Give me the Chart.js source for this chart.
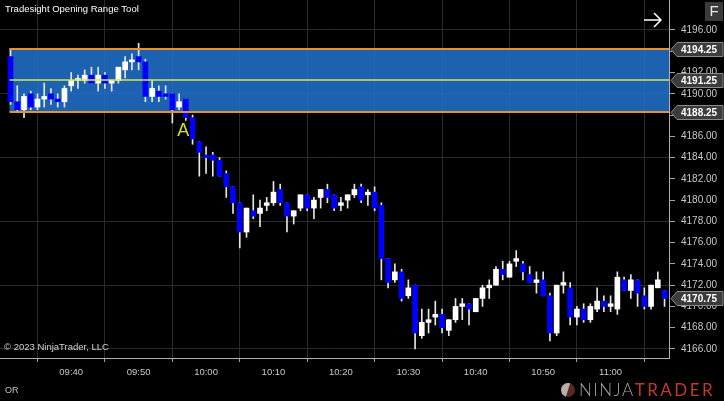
<!DOCTYPE html>
<html>
<head>
<meta charset="utf-8">
<script src="https://cdn.jsdelivr.net/npm/chart.js@4/dist/chart.umd.min.js"></script>
<style>
html,body{margin:0;padding:0;background:#000;overflow:hidden}
canvas{display:block}
</style>
</head>
<body>
<canvas id="c" width="724" height="401"></canvas>
<script>
// ======= DATA =======
const times = ["09:31","09:32","09:33","09:34","09:35","09:36","09:37","09:38","09:39","09:40",
  "09:41","09:42","09:43","09:44","09:45","09:46","09:47","09:48","09:49","09:50",
  "09:51","09:52","09:53","09:54","09:55","09:56","09:57","09:58","09:59","10:00",
  "10:01","10:02","10:03","10:04","10:05","10:06","10:07","10:08","10:09","10:10",
  "10:11","10:12","10:13","10:14","10:15","10:16","10:17","10:18","10:19","10:20",
  "10:21","10:22","10:23","10:24","10:25","10:26","10:27","10:28","10:29","10:30",
  "10:31","10:32","10:33","10:34","10:35","10:36","10:37","10:38","10:39","10:40",
  "10:41","10:42","10:43","10:44","10:45","10:46","10:47","10:48","10:49","10:50",
  "10:51","10:52","10:53","10:54","10:55","10:56","10:57","10:58","10:59","11:00",
  "11:01","11:02","11:03","11:04","11:05","11:06","11:07","11:08"];

const opens = [4193.5,4189.25,4188.5,4190,4188.75,4189.5,4190,4189.5,4189.25,4190.75,
  4191.25,4191.25,4191.75,4191,4191.75,4191,4191.25,4192.25,4193,4193.5,
  4193,4189.75,4190.25,4190,4190,4188.75,4189.5,4187.75,4185.5,4184.25,
  4184.25,4183.75,4182.5,4181.25,4179.75,4177,4179,4178.75,4179.5,4179.75,
  4181,4179.75,4178.5,4179.25,4180.5,4179.25,4180.25,4181,4180.5,4179.5,
  4180,4180.5,4181.25,4180.5,4180.75,4179.5,4174.5,4172.5,4173.25,4171,
  4172,4167.25,4168.5,4169,4169.25,4167.75,4168.75,4170,4170.25,4169.5,
  4170.75,4171.75,4172,4173.5,4172.75,4174.25,4174,4173,4172.25,4172.5,
  4171,4167.5,4172,4171.75,4169,4169.75,4168.75,4169.75,4170.5,4170,
  4169.75,4172.5,4171.5,4172.5,4171,4170,4171.75,4171.5];

const highs = [4194.25,4190.75,4190,4190.25,4190,4191,4190.5,4190,4190.75,4192,
  4191.75,4192.25,4192.5,4192.5,4192,4191.25,4192.5,4193.5,4193.75,4194.75,
  4193.25,4191.25,4190.75,4190.75,4190,4190,4189.5,4188,4185.5,4185,
  4184.5,4184,4182.75,4181.25,4179.75,4179.25,4180.5,4180,4180.25,4181.75,
  4181.5,4179.75,4179,4180.5,4180.5,4180.25,4181,4181.5,4180.5,4180.25,
  4180.5,4181.5,4181.5,4181,4181.25,4179.75,4174.5,4174,4173.5,4172.5,
  4172,4169.75,4169.75,4170.5,4169.75,4168.75,4170.75,4170.75,4170.25,4170.75,
  4172,4172.5,4173.75,4174.25,4174.25,4175.25,4174.25,4173.75,4173.25,4173.25,
  4171.25,4172,4173.25,4172.25,4170,4170.25,4170.25,4171.75,4171,4171,
  4173.25,4172.75,4173,4172.5,4171.75,4172,4173.25,4171.5];

const lows = [4189,4188.25,4187.75,4188.5,4188.5,4188.75,4189,4188.75,4188.75,4190.25,
  4190.5,4191,4191,4190.25,4190.5,4190.25,4191,4191.5,4192.25,4192.25,
  4189.25,4189.25,4189.25,4189.5,4187.25,4188.5,4187.5,4185.25,4182.25,4182.5,
  4182.25,4182.25,4180.25,4178.75,4175.5,4176.5,4178.25,4177.5,4179,4179.5,
  4179.5,4177,4177.75,4179,4179,4178.25,4179.25,4179.75,4179,4179,
  4179.25,4180.25,4179.75,4179.5,4179,4172.5,4171.75,4172.25,4170.5,4170.75,
  4166,4167,4167.5,4168.25,4167.5,4167.25,4168.5,4168.75,4168.25,4169.5,
  4170,4170.75,4172,4172.5,4172.75,4173.75,4172.5,4172.25,4171.25,4171,
  4166.75,4167.25,4171.25,4168.25,4168.25,4168.5,4168.5,4169.5,4169.5,4169.5,
  4169.25,4171.5,4170.75,4170,4169.75,4169.75,4171.75,4170];

const closes = [4189.25,4188.5,4189.75,4188.75,4189.5,4189.75,4189.5,4189.25,4190.5,4191.25,
  4191.25,4191.75,4191,4191.75,4191,4191.25,4192.5,4193,4193,4193,
  4189.75,4190.5,4189.75,4189.75,4188.5,4189.25,4187.75,4185.75,4184.5,4184,
  4183.75,4182.25,4181.25,4179.75,4177,4179.25,4178.5,4179.25,4179.75,4180.75,
  4179.75,4178.5,4179,4180.5,4179.25,4180,4181,4180.25,4179.25,4179.75,
  4180.5,4181,4180,4180.75,4179.25,4174.5,4172.25,4173.25,4170.75,4171.75,
  4167.5,4168.5,4168.75,4169.25,4168,4168.75,4170,4170.25,4169.75,4170.75,
  4171.75,4172,4173.5,4173,4174,4174.5,4173.25,4172.25,4172.5,4171,
  4167.5,4172,4172.25,4169,4169.75,4168.75,4170,4170.5,4170,4170.25,
  4172.75,4171.5,4172.5,4171.25,4170,4172,4172.5,4170.75];

const xTickLabels = ["09:40","09:50","10:00","10:10","10:20","10:30","10:40","10:50","11:00"];
const yTickLabels = [4166,4168,4170,4172,4174,4176,4178,4180,4182,4184,4186,4188,4190,4192,4194,4196];
const yGridLines = [4166,4172,4178,4184,4190,4196];

// opening range
const orHigh = 4194.25, orMid = 4191.25, orLow = 4188.25;
const signal = {time: "09:56", price: 4186.6, text: "A"};

// ======= UTILS =======
function toMin(t){ const p = t.split(":"); return (+p[0]) * 60 + (+p[1]) - 570; }
function toLabel(m){ const h = Math.floor((m + 570) / 60), mm = (m + 570) % 60; return String(h).padStart(2,"0") + ":" + String(mm).padStart(2,"0"); }

const bodies = times.map((t,i) => ({x: toMin(t), y: [opens[i], closes[i]]}));
const wicks = times.map((t,i) => ({x: toMin(t), y: [lows[i], highs[i]]}));
const bodyColors = times.map((t,i) => closes[i] < opens[i] ? "#0000ff" : "#ffffff");

const FONT = "'Liberation Sans', Arial, sans-serif";

// ======= OVERLAY =======
const overlay = {
  id: "overlay",
  beforeDatasetsDraw(chart){
    const {ctx, chartArea: a, scales: {x, y}} = chart;
    const left = x.getPixelForValue(toMin(times[0])) - 1;
    ctx.save();
    ctx.fillStyle = "rgba(33,110,202,0.88)";
    ctx.fillRect(left, y.getPixelForValue(orHigh), a.right - left, y.getPixelForValue(orLow) - y.getPixelForValue(orHigh));
    ctx.restore();
  },
  afterDatasetsDraw(chart){
    const {ctx, chartArea: a, scales: {x, y}} = chart;
    const left = x.getPixelForValue(toMin(times[0])) - 1;
    ctx.save();
    ctx.strokeStyle = "#e8902c"; ctx.lineWidth = 2;
    [orHigh, orLow].forEach(v => {
      const py = Math.round(y.getPixelForValue(v));
      ctx.beginPath(); ctx.moveTo(left, py); ctx.lineTo(a.right, py); ctx.stroke();
    });
    ctx.strokeStyle = "#d6ea52"; ctx.lineWidth = 1.5;
    const my = Math.round(y.getPixelForValue(orMid));
    ctx.beginPath(); ctx.moveTo(left, my); ctx.lineTo(a.right, my); ctx.stroke();
    // signal letter
    ctx.fillStyle = "#d8e02a"; ctx.font = "18px " + FONT;
    ctx.textAlign = "center"; ctx.textBaseline = "middle";
    ctx.fillText(signal.text, x.getPixelForValue(toMin(signal.time) + 0.6), y.getPixelForValue(signal.price) + 1);
    ctx.restore();
  },
  afterDraw(chart){
    const {ctx, scales: {y}} = chart;
    ctx.save();
    // price flags
    const flag = (v) => {
      const py = Math.round(y.getPixelForValue(v)) + 0.5;
      ctx.beginPath();
      ctx.moveTo(671, py); ctx.lineTo(677, py - 7); ctx.lineTo(723, py - 7);
      ctx.lineTo(723, py + 7); ctx.lineTo(677, py + 7); ctx.closePath();
      ctx.fillStyle = "#3c3c3c"; ctx.fill();
      ctx.strokeStyle = "#8a8a8a"; ctx.lineWidth = 1; ctx.stroke();
      ctx.fillStyle = "#ffffff"; ctx.font = "bold 10px " + FONT;
      ctx.textAlign = "left"; ctx.textBaseline = "middle";
      ctx.fillText(v.toFixed(2), 681, py + 0.5);
    };
    [orHigh, orMid, orLow, closes[closes.length - 1]].forEach(flag);

    // title & texts
    ctx.textAlign = "left"; ctx.textBaseline = "middle";
    ctx.fillStyle = "#ffffff"; ctx.font = "9.5px " + FONT;
    ctx.fillText("Tradesight Opening Range Tool", 5, 9);
    ctx.fillStyle = "#d0d0d0";
    ctx.fillText("\u00a9 2023 NinjaTrader, LLC", 4, 347);
    ctx.fillStyle = "#c0c0c0"; ctx.font = "9px " + FONT;
    ctx.fillText("OR", 5, 391);

    // F button
    ctx.fillStyle = "#3a3a3a"; ctx.fillRect(705, 2, 18, 19);
    ctx.fillStyle = "#e8e8e8"; ctx.font = "15px " + FONT; ctx.textAlign = "center";
    ctx.fillText("F", 714, 12);

    // arrow
    ctx.strokeStyle = "#ffffff"; ctx.lineWidth = 1.5;
    ctx.beginPath(); ctx.moveTo(644, 20); ctx.lineTo(661, 20);
    ctx.moveTo(654, 13); ctx.lineTo(661, 20); ctx.lineTo(654, 27); ctx.stroke();

    // logo
    ctx.beginPath(); ctx.arc(568, 390, 7, 0, Math.PI * 2);
    ctx.fillStyle = "#5a2a22"; ctx.fill();
    ctx.beginPath(); ctx.arc(568, 390, 7, Math.PI * 0.6, Math.PI * 1.6);
    ctx.fillStyle = "#b8b0a8"; ctx.fill();
    ctx.textAlign = "left"; ctx.font = "300 17px Lato, " + FONT;
    ctx.letterSpacing = "1.5px";
    ctx.fillStyle = "#a8a8a8"; ctx.fillText("NINJA", 579, 391);
    const w = ctx.measureText("NINJA").width;
    ctx.letterSpacing = "2.5px";
    ctx.fillStyle = "#c23a2c"; ctx.font = "400 17px Lato, " + FONT;
    ctx.fillText("TRADER", 579 + w, 391);
    ctx.restore();
  }
};

// ======= CHART =======
new Chart(document.getElementById("c"), {
  type: "bar",
  data: {
    datasets: [
      {data: bodies, backgroundColor: bodyColors, barThickness: 5, minBarLength: 2, grouped: false},
      {data: wicks, backgroundColor: "#e6e6e6", barThickness: 1, grouped: false}
    ]
  },
  options: {
    responsive: false,
    animation: false,
    layout: {padding: 0},
    plugins: {legend: {display: false}, tooltip: {enabled: false}},
    scales: {
      x: {
        type: "linear", min: -0.56, max: 98.66, offset: false,
        afterBuildTicks: s => { s.ticks = xTickLabels.map(t => ({value: toMin(t)})); },
        afterFit: s => { s.height = 43; s.paddingLeft = 0; s.paddingRight = 0; },
        ticks: {color: "#c8c8c8", font: {size: 9.5, family: FONT}, padding: 5, maxRotation: 0, autoSkip: false,
          callback: v => toLabel(v)},
        grid: {color: "#2c2c2c", tickColor: "#a0a0a0", tickLength: 4},
        border: {color: "#b0b0b0"}
      },
      y: {
        position: "right", min: 4165.15, max: 4198.82,
        afterBuildTicks: s => { s.ticks = yTickLabels.map(v => ({value: v})); },
        afterFit: s => { s.width = 55; s.paddingTop = 0; s.paddingBottom = 0; },
        ticks: {color: "#c8c8c8", font: {size: 10, family: FONT}, padding: 6, callback: v => v.toFixed(2)},
        grid: {color: c => (c.tick && yGridLines.includes(c.tick.value)) ? "#2c2c2c" : "rgba(0,0,0,0)",
          tickColor: "#a0a0a0", tickLength: 6},
        border: {color: "#b0b0b0"}
      }
    }
  },
  plugins: [overlay]
});
</script>
</body>
</html>
